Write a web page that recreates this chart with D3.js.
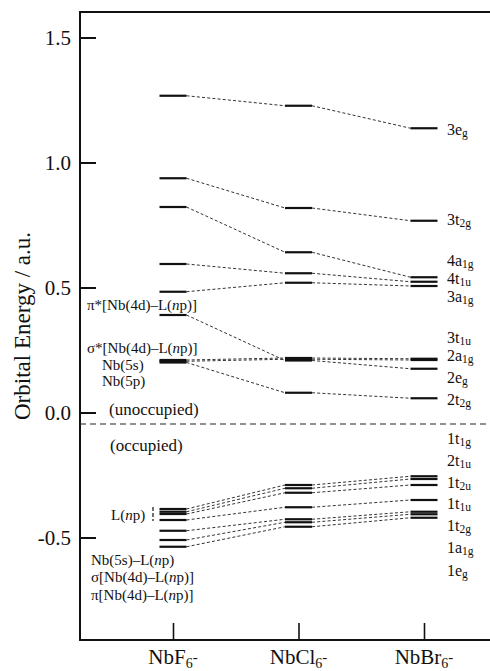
<!DOCTYPE html>
<html>
<head>
<meta charset="utf-8">
<script src="https://cdn.jsdelivr.net/npm/d3@7/dist/d3.min.js"></script>
<style>
  body { margin: 0; background: #fff; }
  svg text { font-family: "Liberation Serif", "DejaVu Serif", "Times New Roman", serif; fill: #111; }
</style>
</head>
<body>
<svg id="chart" width="490" height="671"></svg>
<script>
// ---- data ---------------------------------------------------------------
const complexes = ["NbF6-", "NbCl6-", "NbBr6-"];
const complexLabels = [["NbF", "6", "-"], ["NbCl", "6", "-"], ["NbBr", "6", "-"]];

// unoccupied levels (a.u.), one entry per orbital, same order as unoccNames
const unoccNbF6  = [1.267, 0.937, 0.822, 0.594, 0.483, 0.210, 0.205, 0.390, 0.200];
const unoccNbCl6 = [1.227, 0.818, 0.641, 0.557, 0.519, 0.218, 0.213, 0.208, 0.079];
const unoccNbBr6 = [1.137, 0.767, 0.541, 0.523, 0.506, 0.215, 0.210, 0.175, 0.057];
const unoccNames = ["3e_g", "3t_2g", "4a_1g", "4t_1u", "3a_1g", "3t_1u", "2a_1g", "2e_g", "2t_2g"];

// occupied levels (a.u.)
const occNbF6  = [-0.386, -0.397, -0.406, -0.430, -0.473, -0.510, -0.537];
const occNbCl6 = [-0.290, -0.303, -0.321, -0.379, -0.427, -0.439, -0.457];
const occNbBr6 = [-0.255, -0.266, -0.290, -0.350, -0.397, -0.407, -0.421];
const occNames = ["1t_1g", "2t_1u", "1t_2u", "1t_1u", "1t_2g", "1a_1g", "1e_g"];

const yTicks = [1.5, 1.0, 0.5, 0.0, -0.5];
const occupationBoundary = -0.046;

// ---- layout -------------------------------------------------------------
const SERIF = '"Liberation Serif", "DejaVu Serif", "Times New Roman", serif';
const plot = { left: 80, top: 12, bottom: 640, right: 490 };
const barHalf = 13.5;

// right-hand orbital labels, pixel rows (text baselines)
const unoccLabelRows = [135, 225, 266, 284, 302, 343, 361, 383, 405];
const occLabelRows = [444, 466, 488, 509, 531, 553, 576];

const svg = d3.select("#chart");

const y = d3.scaleLinear().domain([-0.91, 1.602]).range([plot.bottom, plot.top]);
const x = d3.scalePoint().domain(complexes).range([173, 424]);

function txt(parent, size) {
  return parent.append("text")
    .style("font-family", SERIF)
    .style("font-size", size + "px")
    .attr("fill", "#111");
}

// frame (open on the right)
svg.append("path")
  .attr("d", `M${plot.right},${plot.top}H${plot.left}V${plot.bottom}H${plot.right}`)
  .attr("fill", "none").attr("stroke", "#111").attr("stroke-width", 2);

// y axis ticks and labels
const yAxis = svg.append("g")
  .attr("transform", `translate(${plot.left},0)`)
  .call(d3.axisLeft(y).tickValues(yTicks).tickSize(-16).tickPadding(9)
    .tickFormat(d => d.toFixed(1)));
yAxis.select(".domain").remove();
yAxis.selectAll(".tick line").attr("stroke", "#111").attr("stroke-width", 2);
yAxis.selectAll(".tick text")
  .style("font-family", SERIF)
  .style("font-size", "21px").attr("fill", "#111");

// x axis ticks
const xAxis = svg.append("g")
  .attr("transform", `translate(0,${plot.bottom})`)
  .call(d3.axisBottom(x).tickSize(-17).tickFormat(""));
xAxis.select(".domain").remove();
xAxis.selectAll(".tick line").attr("stroke", "#111").attr("stroke-width", 1.6);

// x category labels with subscript / charge
complexes.forEach((c, i) => {
  const parts = complexLabels[i];
  const t = txt(svg, 21).attr("x", x(c)).attr("y", 664).attr("text-anchor", "middle");
  t.append("tspan").text(parts[0]);
  t.append("tspan").attr("dy", 4).style("font-size", "14px").text(parts[1]);
  t.append("tspan").attr("dy", -6).style("font-size", "15px").text(parts[2]);
});

// y axis title
txt(svg, 23)
  .attr("transform", `translate(30,326) rotate(-90)`)
  .attr("text-anchor", "middle")
  .text("Orbital Energy / a.u.");

// ---- levels and correlation lines ----------------------------------------
const columns = [
  [unoccNbF6, occNbF6],
  [unoccNbCl6, occNbCl6],
  [unoccNbBr6, occNbBr6]
];

const linkG = svg.append("g");
const barG = svg.append("g");

function drawSet(sets) {
  sets.forEach((vals, ci) => {
    const cx = x(complexes[ci]);
    barG.selectAll(null).data(vals).enter().append("line")
      .attr("x1", cx - barHalf).attr("x2", cx + barHalf)
      .attr("y1", d => y(d)).attr("y2", d => y(d))
      .attr("stroke", "#111").attr("stroke-width", 2.2);
    if (ci < sets.length - 1) {
      const nx = x(complexes[ci + 1]);
      linkG.selectAll(null).data(vals).enter().append("line")
        .attr("x1", cx + barHalf).attr("x2", nx - barHalf)
        .attr("y1", d => y(d)).attr("y2", (d, k) => y(sets[ci + 1][k]))
        .attr("stroke", "#333").attr("stroke-width", 1)
        .attr("stroke-dasharray", "3,2.2");
    }
  });
}
drawSet(columns.map(c => c[0]));
drawSet(columns.map(c => c[1]));

// occupied / unoccupied boundary
svg.append("line")
  .attr("x1", plot.left).attr("x2", plot.right)
  .attr("y1", y(occupationBoundary)).attr("y2", y(occupationBoundary))
  .attr("stroke", "#222").attr("stroke-width", 1.2)
  .attr("stroke-dasharray", "6,4");

// ---- orbital symmetry labels (right) -----------------------------------
function orbitalLabel(name, row) {
  const [main, sub] = name.split("_");
  const t = txt(svg, 16).attr("x", 447).attr("y", row);
  t.append("tspan").text(main);
  t.append("tspan").attr("dy", 2).style("font-size", "11.5px").text(sub);
}
unoccNames.forEach((n, i) => orbitalLabel(n, unoccLabelRows[i]));
occNames.forEach((n, i) => orbitalLabel(n, occLabelRows[i]));

// ---- character annotations (left) ---------------------------------------
function npLabel(xp, yp, prefix) {
  const t = txt(svg, 15).attr("x", xp).attr("y", yp);
  t.append("tspan").text(prefix + "L(");
  t.append("tspan").style("font-style", "italic").text("n");
  t.append("tspan").text("p)" + (prefix.includes("[") ? "]" : ""));
  return t;
}
npLabel(87, 310, "\u03c0*[Nb(4d)\u2013");
npLabel(87, 353, "\u03c3*[Nb(4d)\u2013");
txt(svg, 15).attr("x", 102).attr("y", 370).text("Nb(5s)");
txt(svg, 15).attr("x", 102).attr("y", 386).text("Nb(5p)");
txt(svg, 17).attr("x", 109).attr("y", 415).text("(unoccupied)");
txt(svg, 17).attr("x", 110).attr("y", 451).text("(occupied)");

npLabel(111, 520, "");
svg.append("line")
  .attr("x1", 153).attr("x2", 153).attr("y1", y(occNbF6[0]) - 2).attr("y2", y(occNbF6[3]) + 1)
  .attr("stroke", "#111").attr("stroke-width", 1.2).attr("stroke-dasharray", "4,2");

npLabel(91, 565, "Nb(5s)\u2013");
npLabel(91, 582, "\u03c3[Nb(4d)\u2013");
npLabel(91, 600, "\u03c0[Nb(4d)\u2013");
</script>
</body>
</html>
